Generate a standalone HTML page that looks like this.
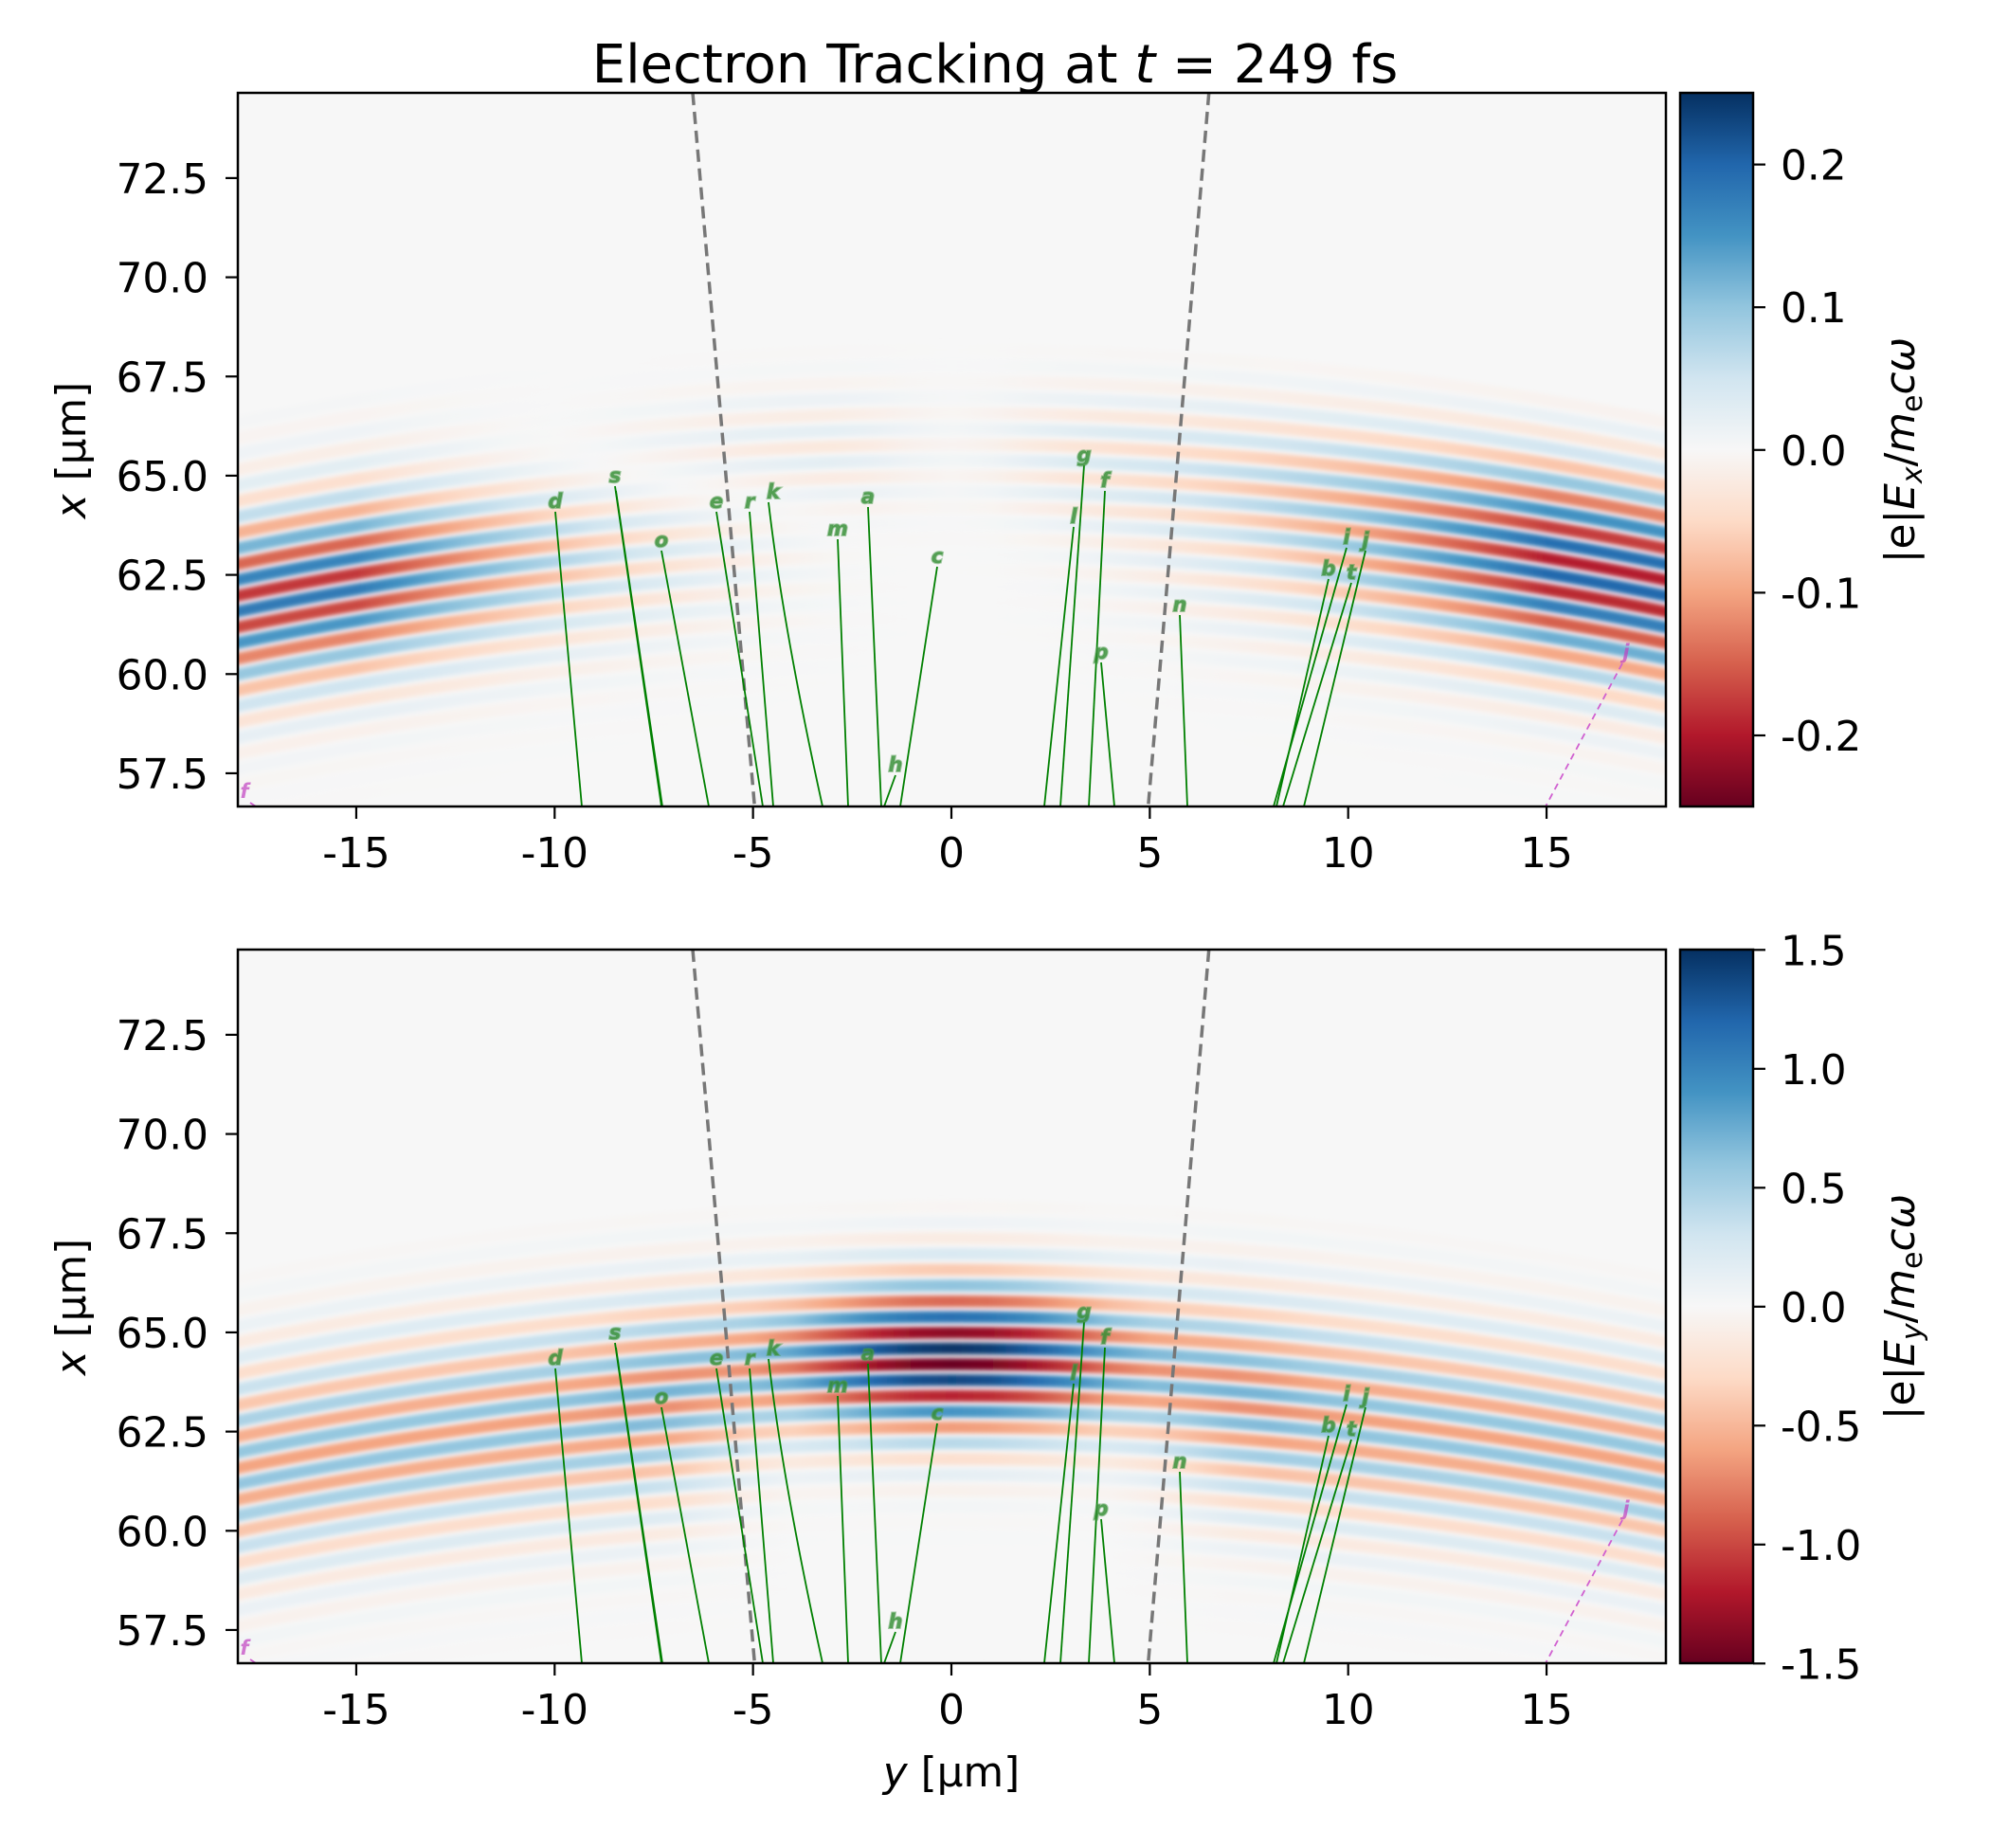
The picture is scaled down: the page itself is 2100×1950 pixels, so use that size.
<!DOCTYPE html>
<html><head><meta charset="utf-8">
<style>
html,body{margin:0;padding:0;background:#fff;}
svg{display:block;}
text{font-family:"DejaVu Sans","Liberation Sans",sans-serif;}
</style></head>
<body>
<svg id="s" xmlns="http://www.w3.org/2000/svg" width="2100" height="1950" viewBox="0 0 2100 1950">
<defs>
<filter id="bl" x="-5%" y="-50%" width="110%" height="200%"><feGaussianBlur stdDeviation="2.3"/></filter>
<clipPath id="c1"><rect x="251" y="98" width="1507" height="753"/></clipPath>
<clipPath id="c2"><rect x="251" y="1002" width="1507" height="753"/></clipPath>
<linearGradient id="cb" x1="0" y1="0" x2="0" y2="1">
<stop offset="0" stop-color="#053061"/><stop offset="0.1" stop-color="#2166ac"/><stop offset="0.2" stop-color="#4393c3"/><stop offset="0.3" stop-color="#92c5de"/><stop offset="0.4" stop-color="#d1e5f0"/><stop offset="0.5" stop-color="#f7f7f7"/><stop offset="0.6" stop-color="#fddbc7"/><stop offset="0.7" stop-color="#f4a582"/><stop offset="0.8" stop-color="#d6604d"/><stop offset="0.9" stop-color="#b2182b"/><stop offset="1" stop-color="#67001f"/>
</linearGradient>
</defs>
<rect width="2100" height="1950" fill="#fff"/>
<text x="1050" y="87" font-size="56" text-anchor="middle" xml:space="preserve">Electron Tracking at <tspan font-style="italic">t</tspan> = 249 fs</text>
<g id="p1"></g>
<g id="p2"></g>
</svg>
<script>
(function(){
var NS="http://www.w3.org/2000/svg";
var svg=document.getElementById('s');
var defs=svg.querySelector('defs');
var W=41.87;
var anch=[[103,0,31],[178,24,43],[214,96,77],[244,165,130],[253,219,199],[247,247,247],[209,229,240],[146,197,222],[67,147,195],[33,102,172],[5,48,97]];
function rdbu(v){
  v=Math.max(-1,Math.min(1,v)); var t=(v+1)/2*10; var i=Math.min(9,Math.floor(t)); var f=t-i;
  var a=anch[i],b=anch[i+1]; var c=[0,1,2].map(function(k){return Math.round(a[k]+(b[k]-a[k])*f);});
  return 'rgb('+c.join(',')+')';
}
function el(n,at,p){var e=document.createElementNS(NS,n);for(var k in at)e.setAttribute(k,at[k]);if(p)p.appendChild(e);return e;}
function px(y){return 1004+y*W;}
function ss(x,a,b){var t=Math.max(0,Math.min(1,(x-a)/(b-a)));return t*t*(3-2*t);}
var SAG=1.85;
function ampT(y,xc){
  var s=Math.tanh(y/2);
  var r=Math.pow(Math.min(1,Math.abs(y)/15),2);
  return 0.75*s*r*Math.exp(-Math.pow((xc-63.8)/2.4,2)) + 0.13*Math.exp(-Math.pow((xc-65.6)/1.6,2))*(1-0.8*Math.exp(-y*y/4));
}
function ampB(y,xc){
  var c=1.0*Math.exp(-Math.pow(y/5,2))*Math.exp(-Math.pow((xc-64.4)/1.9,2));
  var side=0.4*Math.exp(-Math.pow((xc-63.4)/2.6,2))*ss(Math.abs(y),3.5,8);
  return c+side;
}
function panel(off,gid,clip,amp,gname){
  var g=document.getElementById(gid);
  el('rect',{x:251,y:98+off,width:1507,height:753,fill:'#f7f7f7'},g);
  var cg=el('g',{'clip-path':'url(#'+clip+')'},g);
  var bg=el('g',{filter:'url(#bl)'},cg);
  var n=0;
  for(var xc=68.2;xc>57.0;xc-=0.3975){
    n++;
    var sign=(n%2==0)?1:-1;
    var gd=el('linearGradient',{id:gname+n,gradientUnits:'userSpaceOnUse',x1:251,y1:0,x2:1758,y2:0},defs);
    for(var y=-18;y<=18.01;y+=1){
      var a=amp(y,xc);
      el('stop',{offset:((y+18)/36).toFixed(4),'stop-color':rdbu(sign*a)},gd);
    }
    var py=98.3+off+(74.64-xc)*W; var s=SAG*W;
    el('path',{d:'M240,'+(py+s*1.03)+' Q1004,'+(py-s)+' 1768,'+(py+s*1.03),fill:'none',stroke:'url(#'+gname+n+')','stroke-width':12.5},bg);
  }
  el('line',{x1:px(-6.52),y1:98+off,x2:px(-4.96),y2:851+off,stroke:'#777','stroke-width':3.5,'stroke-dasharray':'13,7'},cg);
  el('line',{x1:px(6.49),y1:98+off,x2:px(4.96),y2:851+off,stroke:'#777','stroke-width':3.5,'stroke-dasharray':'13,7'},cg);
  var tr=[['d',586,540,614,851],['s',649,513,698,851],['q',650,518,699,851],['o',698,581,748,851],['e',756,540,805,851],['r',791,540,816,851],['m',884,569,895,851],['a',916,535,930,851],['c',989,598,950,851],['h',945,818,933,851],
  ['g',1144,491,1119,851],['l',1133,556,1102,851],['f',1166,518,1149,851],['p',1162,699,1176,851],['n',1245,649,1253,851],['i',1421,578,1344,851],['b',1402,611,1347,851],['t',1426,615,1354,851],['j',1441,581,1376,851]];
  tr.forEach(function(t){
    el('line',{x1:t[1],y1:t[2]+off,x2:t[3],y2:t[4]+off,stroke:'#008000','stroke-width':1.8},cg);
    var tx=el('text',{x:t[1],y:t[2]+off-4,'font-size':21,'font-weight':'bold','font-style':'italic','text-anchor':'middle',fill:'#2e8b2e','fill-opacity':0.8,stroke:'#4a9a4a','stroke-width':2,'stroke-opacity':0.5},cg);
    tx.textContent=(t[0]=='q')?'':t[0];
  });
  el('path',{d:'M811,'+(530+off)+' Q826,'+(660+off)+' 868,'+(851+off),fill:'none',stroke:'#008000','stroke-width':1.8},cg);
  var kt=el('text',{x:816,y:526+off,'font-size':21,'font-weight':'bold','font-style':'italic','text-anchor':'middle',fill:'#2e8b2e','fill-opacity':0.8,stroke:'#4a9a4a','stroke-width':2,'stroke-opacity':0.5},cg);kt.textContent='k';
  el('line',{x1:1712,y1:700+off,x2:1631,y2:851+off,stroke:'#d060d0','stroke-width':1.8,'stroke-dasharray':'7,5'},cg);
  var mj=el('text',{x:1716,y:695+off,'font-size':21,'font-weight':'bold','font-style':'italic','text-anchor':'middle',fill:'#c040c0','fill-opacity':0.7},cg);mj.textContent='j';
  var mf=el('text',{x:258,y:842+off,'font-size':21,'font-weight':'bold','font-style':'italic','text-anchor':'middle',fill:'#c040c0','fill-opacity':0.7},cg);mf.textContent='f';
  el('line',{x1:264,y1:847+off,x2:270,y2:851+off,stroke:'#d060d0','stroke-width':1.8},cg);
  el('rect',{x:251,y:98+off,width:1507,height:753,fill:'none',stroke:'#000','stroke-width':2.5},g);
  [72.5,70,67.5,65,62.5,60,57.5].forEach(function(v){
    var yy=98.3+off+(74.64-v)*W;
    el('line',{x1:238,y1:yy,x2:251,y2:yy,stroke:'#000','stroke-width':2.2},g);
    var t=el('text',{x:220,y:yy+16,'font-size':43.75,'text-anchor':'end'},g);t.textContent=v.toFixed(1);
  });
  [-15,-10,-5,0,5,10,15].forEach(function(v){
    var xx=px(v);
    el('line',{x1:xx,y1:851+off,x2:xx,y2:864+off,stroke:'#000','stroke-width':2.2},g);
    var t=el('text',{x:xx,y:915+off,'font-size':43.75,'text-anchor':'middle'},g);t.textContent=String(v);
  });
  var yl=el('text',{transform:'translate(90,'+(475+off)+') rotate(-90)','font-size':43.75,'text-anchor':'middle'},g);
  yl.innerHTML='<tspan font-style="italic">x</tspan> [μm]';
}
panel(0,'p1','c1',ampT,'ga');
panel(904,'p2','c2',ampB,'gb');
function cbar(off,ticks,vmax,lab){
  el('rect',{x:1773,y:98+off,width:77,height:753,fill:'url(#cb)',stroke:'#000','stroke-width':2.5},svg);
  ticks.forEach(function(v){
    var yy=98.3+off+(vmax-v)/(2*vmax)*753;
    el('line',{x1:1850,y1:yy,x2:1863,y2:yy,stroke:'#000','stroke-width':2.2},svg);
    var t=el('text',{x:1879,y:yy+16,'font-size':43.75},svg);t.textContent=v.toFixed(1);
  });
  var t=el('text',{transform:'translate(2020,'+(475+off)+') rotate(-90)','font-size':43.75,'text-anchor':'middle'},svg);
  t.innerHTML='|e|<tspan font-style="italic">E</tspan><tspan font-style="italic" font-size="30" dy="8">'+lab+'</tspan><tspan dy="-8">/</tspan><tspan font-style="italic">m</tspan><tspan font-size="30" dy="8">e</tspan><tspan font-style="italic" dy="-8">cω</tspan>';
}
cbar(0,[0.2,0.1,0,-0.1,-0.2],0.25,'x');
cbar(904,[1.5,1,0.5,0,-0.5,-1,-1.5],1.5,'y');
var xl=el('text',{x:1004,y:1885,'font-size':43.75,'text-anchor':'middle'},svg);
xl.innerHTML='<tspan font-style="italic">y</tspan> [μm]';
})();
</script>
</body></html>
